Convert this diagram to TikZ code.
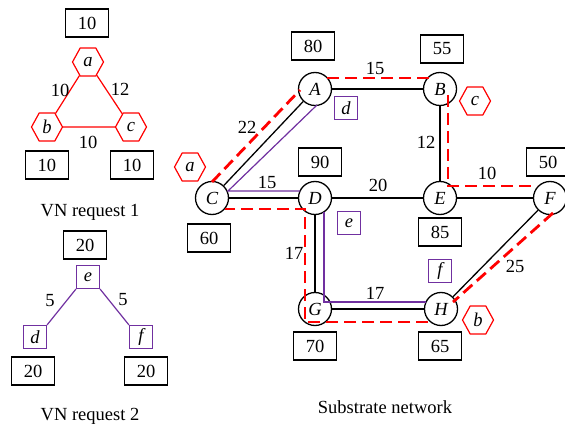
\documentclass[tikz,border=0pt]{standalone}
\usepackage{fontspec}
\setmainfont{Liberation Serif}
\usetikzlibrary{shapes.geometric,calc}
\definecolor{vpurple}{RGB}{112,48,160}
\definecolor{vred}{RGB}{255,0,0}
\begin{document}
\begin{tikzpicture}[x=1pt,y=-1pt,
  every node/.style={font=\fontsize{18.5}{20}\selectfont},
  sub/.style={circle,draw,line width=1.3pt,minimum size=33pt,inner sep=0pt,fill=white,font=\fontsize{18.5}{20}\selectfont\itshape},
  wbox/.style={draw,line width=1.3pt,minimum width=43pt,minimum height=28pt,inner sep=0pt},
  hexn/.style={regular polygon,regular polygon sides=6,draw=vred,line width=1.2pt,minimum size=31pt,inner sep=0pt,yscale=1.05,font=\fontsize{18.5}{20}\selectfont\itshape},
  sqn/.style={draw=vpurple,line width=1.2pt,minimum size=23pt,inner sep=0pt,font=\fontsize{18.5}{20}\selectfont\itshape},
  lnk/.style={line width=1.3pt},
  rdash/.style={vred,line width=2.8pt,dash pattern=on 12pt off 6pt},
  pln/.style={vpurple,line width=1.2pt},
  rln/.style={vred,line width=1.2pt},
  lbl/.style={inner sep=0pt}
]
\useasboundingbox (0,0) rectangle (565,430);

% ---------- VN request 1 ----------
\node[hexn] (va) at (88,62) {a};
\node[hexn] (vb) at (47,127) {b};
\node[hexn] (vc) at (131,127) {c};
\draw[rln] (va) -- (vb);
\draw[rln] (va) -- (vc);
\draw[rln] (vb) -- (vc);
\node[wbox] (wa) at (87,23) {10};
\node[wbox] (wb) at (47,165) {10};
\node[wbox] (wc) at (132,165) {10};
\node[lbl] (lab) at (60,90) {10};
\node[lbl] (lac) at (120,89) {12};
\node[lbl] (lbc) at (88,142) {10};
\node[lbl] (t1) at (90,212) {VN request 1};

% ---------- VN request 2 ----------
\node[sqn] (ve) at (88,277) {e};
\node[sqn] (vd) at (35,337) {d};
\node[sqn] (vf) at (141,337) {f};
\draw[pln] (ve.south west) -- (vd.north east);
\draw[pln] (ve.south east) -- (vf.north west);
\node[wbox] (we) at (85,245) {20};
\node[wbox] (wd) at (33,371) {20};
\node[wbox] (wf) at (146,371) {20};
\node[lbl] (led) at (50,301) {5};
\node[lbl] (lef) at (123,300) {5};
\node[lbl] (t2) at (90,416) {VN request 2};

% ---------- Substrate network ----------
\node[sub] (A) at (315,89) {A};
\node[sub] (B) at (440,89) {B};
\node[sub] (C) at (212,198) {C};
\node[sub] (D) at (315,198) {D};
\node[sub] (E) at (440,198) {E};
\node[sub] (F) at (550,198) {F};
\node[sub] (G) at (315,309) {G};
\node[sub] (H) at (441,309) {H};

\draw[lnk] (A) -- (B);
\draw[lnk] (A) -- (C);
\draw[lnk] (C) -- (D);
\draw[lnk] (D) -- (E);
\draw[lnk] (E) -- (F);
\draw[lnk] (B) -- (E);
\draw[lnk] (D) -- (G);
\draw[lnk] (G) -- (H);
\draw[lnk] (H) -- (F);

% purple mapped virtual links
\draw[pln] ($(A)+(2,16)$) -- ($(C)+(16,-7)$) -- ($(D)+(-15,-7)$);
\draw[pln] ($(D)+(9,14)$) -- ($(G)+(9,-7)$) -- ($(H)+(-15,-7)$);

% red dashed mapped virtual links
\draw[rdash] ($(C)+(0,-16)$) -- ($(A)+(-15,1)$);
\draw[rdash] ($(A)+(12,-11)$) -- ($(B)+(-10,-11)$);
\draw[rdash] ($(B)+(8,6)$) -- ($(E)+(8,-12)$) -- ($(F)+(-13,-12)$);
\draw[rdash] ($(F)+(3,15)$) -- ($(H)+(12,-7)$);
\draw[rdash] ($(H)+(-13,13)$) -- ($(G)+(-10,13)$) -- ($(D)+(-10,11)$) -- ($(C)+(13,11)$);

% weights
\node[wbox] (wA) at (313,46) {80};
\node[wbox] (wB) at (442,49) {55};
\node[wbox] (wD) at (320,162) {90};
\node[wbox] (wF) at (548,162) {50};
\node[wbox] (wC) at (209,238) {60};
\node[wbox] (wE) at (440,232) {85};
\node[wbox] (wG) at (315,346) {70};
\node[wbox] (wH) at (440,346) {65};

% link labels
\node[lbl] (lAB) at (375,68) {15};
\node[lbl] (lAC) at (247,127) {22};
\node[lbl] (lCD) at (267,182) {15};
\node[lbl] (lDE) at (378,185) {20};
\node[lbl] (lBE) at (426,142) {12};
\node[lbl] (lEF) at (487,173) {10};
\node[lbl] (lFH) at (515,266) {25};
\node[lbl] (lDG) at (294,253) {17};
\node[lbl] (lGH) at (375,293) {17};

% mapping markers
\node[hexn] (ma) at (190,167) {a};
\node[hexn] (mc) at (475,101) {c};
\node[hexn] (mb) at (478,320) {b};
\node[sqn] (md) at (346,108) {d};
\node[sqn] (me) at (349,223) {e};
\node[sqn] (mf) at (440,271) {f};

\node[lbl] (t3) at (385,407) {Substrate network};
\end{tikzpicture}
\end{document}
